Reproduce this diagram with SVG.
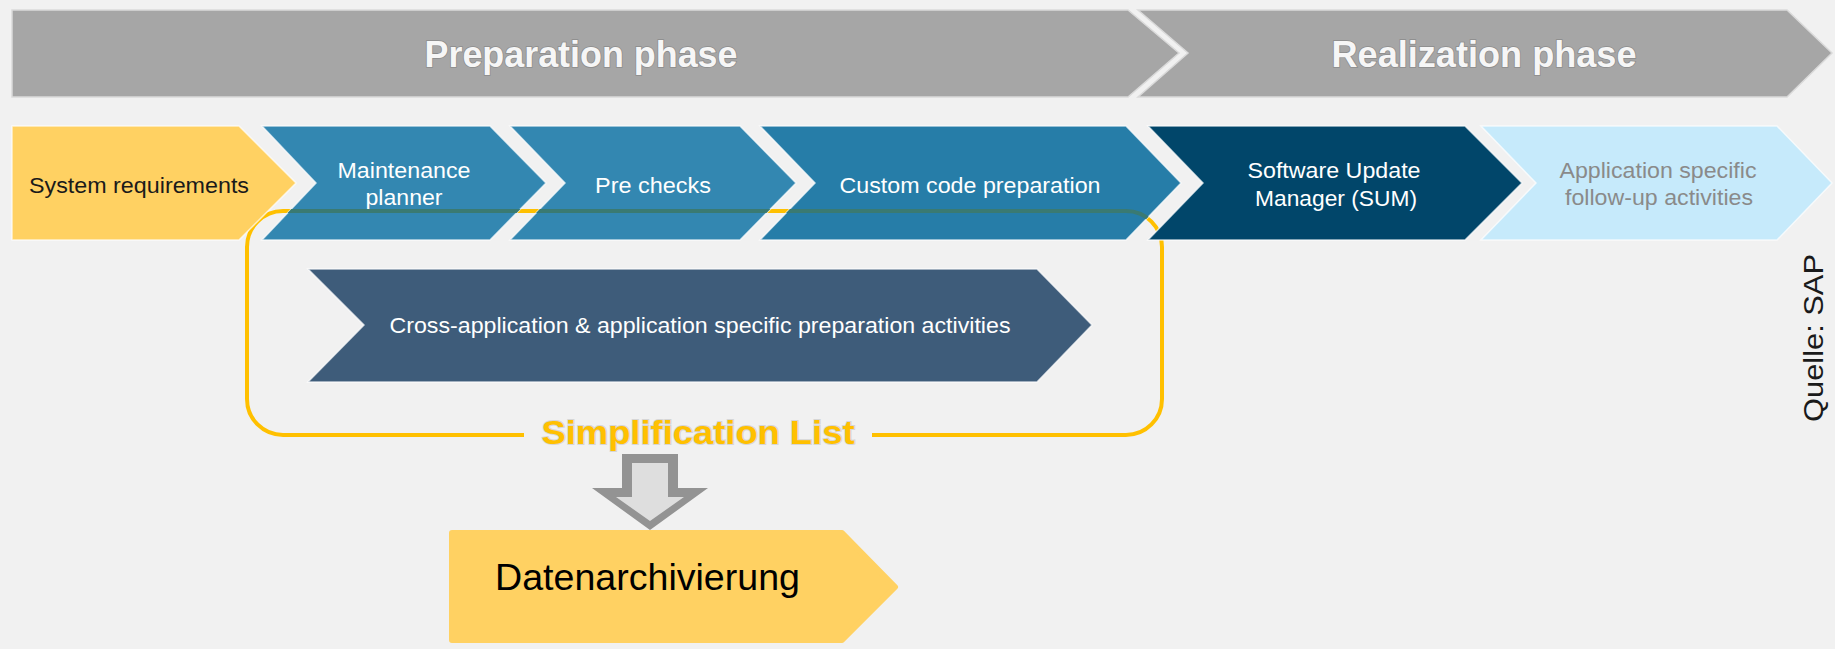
<svg xmlns="http://www.w3.org/2000/svg" width="1835" height="649" viewBox="0 0 1835 649">
<style>
.t{font-family:"Liberation Sans",Arial,sans-serif}
.row{font-size:22px;fill:#ffffff;text-anchor:middle}
.phase{font-size:36px;font-weight:bold;fill:#F6F6F6;stroke:#8C8C8C;stroke-width:1.6;paint-order:stroke;text-anchor:middle}
.chev{stroke:#ffffff;stroke-opacity:0.7;stroke-width:1.5}
.bar{fill:#A6A6A6;stroke:#DADADA;stroke-width:1.5}
</style>
<defs>
<clipPath id="blueClip">
<polygon points="262,126 490,126 546,183 490,240 262,240 316,183"/>
<polygon points="510,126 740,126 796,183 740,240 510,240 565,183"/>
<polygon points="760,126 1126,126 1181,183 1126,240 760,240 815,183"/>
</clipPath>
</defs>
<rect x="0" y="0" width="1835" height="649" fill="#F1F1F1"/>

<g id="phase-preparation">
<polygon class="bar" points="12,10 1128,10 1179,53 1128,97 12,97"/>
<text class="t phase" x="581" y="67" textLength="313" lengthAdjust="spacingAndGlyphs">Preparation phase</text>
</g>
<g id="phase-realization">
<polygon class="bar" points="1138,10 1787,10 1832,53 1787,97 1138,97 1188,53"/>
<text class="t phase" x="1484" y="67" textLength="305" lengthAdjust="spacingAndGlyphs">Realization phase</text>
</g>

<g id="simplification-list">
<path id="slframe" d="M524,435 H283 A36,36 0 0 1 247,399 V247 A36,36 0 0 1 283,211 H1126 A36,36 0 0 1 1162,247 V399 A36,36 0 0 1 1126,435 H872" fill="none" stroke="#FFC000" stroke-width="4"/>
<text class="t" x="698" y="444" font-size="34" font-weight="bold" fill="#FFC000" stroke="#D6D6D6" stroke-width="2" paint-order="stroke" text-anchor="middle" textLength="313" lengthAdjust="spacingAndGlyphs">Simplification List</text>
</g>

<g id="system-requirements">
<polygon class="chev" fill="#FFD162" points="12,126 239,126 296,183 239,240 12,240"/>
<text class="t row" x="139" y="193" style="fill:#1A1A1A" textLength="220" lengthAdjust="spacingAndGlyphs">System requirements</text>
</g>
<g id="maintenance-planner">
<polygon class="chev" fill="#3387B1" points="262,126 490,126 546,183 490,240 262,240 316,183"/>
<text class="t row" x="404" y="178" textLength="133" lengthAdjust="spacingAndGlyphs">Maintenance</text>
<text class="t row" x="404" y="205" textLength="77" lengthAdjust="spacingAndGlyphs">planner</text>
</g>
<g id="pre-checks">
<polygon class="chev" fill="#3387B1" points="510,126 740,126 796,183 740,240 510,240 565,183"/>
<text class="t row" x="653" y="193" textLength="116" lengthAdjust="spacingAndGlyphs">Pre checks</text>
</g>
<g id="custom-code-preparation">
<polygon class="chev" fill="#267DA8" points="760,126 1126,126 1181,183 1126,240 760,240 815,183"/>
<text class="t row" x="970" y="193" textLength="261" lengthAdjust="spacingAndGlyphs">Custom code preparation</text>
</g>
<g id="sum">
<polygon class="chev" fill="#01466A" points="1148,126 1465,126 1522,183 1465,240 1148,240 1203,183"/>
<text class="t row" x="1334" y="178" textLength="173" lengthAdjust="spacingAndGlyphs">Software Update</text>
<text class="t row" x="1336" y="206" textLength="162" lengthAdjust="spacingAndGlyphs">Manager (SUM)</text>
</g>
<g id="follow-up">
<polygon class="chev" fill="#C6EAFB" points="1481,126 1777,126 1832,183 1777,240 1481,240 1536,183"/>
<text class="t row" x="1658" y="178" style="fill:#8A8A8A" textLength="197" lengthAdjust="spacingAndGlyphs">Application specific</text>
<text class="t row" x="1659" y="205" style="fill:#8A8A8A" textLength="188" lengthAdjust="spacingAndGlyphs">follow-up activities</text>
</g>

<g id="frame-overlay" clip-path="url(#blueClip)">
<path d="M283,211 H1126 A36,36 0 0 1 1162,247" fill="none" stroke="#3A7A72" stroke-width="4"/>
</g>

<g id="cross-application">
<polygon class="chev" fill="#3E5C7A" stroke="#D0D8E0" points="308,269 1037,269 1092,325 1037,382 308,382 364,325"/>
<text class="t row" x="700" y="333" textLength="621" lengthAdjust="spacingAndGlyphs">Cross-application &amp; application specific preparation activities</text>
</g>

<g id="connectors">
<polygon fill="#939393" points="622,454 678,454 678,488 708,488 650,530 592,488 622,488"/>
<polygon fill="#DEDEDE" points="632,463 668,463 668,497 684,497 650,521 616,497 632,497"/>
</g>

<g id="datenarchivierung">
<polygon fill="#FFD162" stroke="#FFD162" stroke-width="6" stroke-linejoin="round" points="452,533 842,533 895,587 842,640 452,640"/>
<text class="t" x="495" y="590" font-size="37" fill="#000000" textLength="305" lengthAdjust="spacingAndGlyphs">Datenarchivierung</text>
</g>

<g id="source">
<text class="t" transform="translate(1823,338) rotate(-90)" font-size="28" fill="#1A1A1A" text-anchor="middle" textLength="168" lengthAdjust="spacingAndGlyphs">Quelle: SAP</text>
</g>
</svg>
